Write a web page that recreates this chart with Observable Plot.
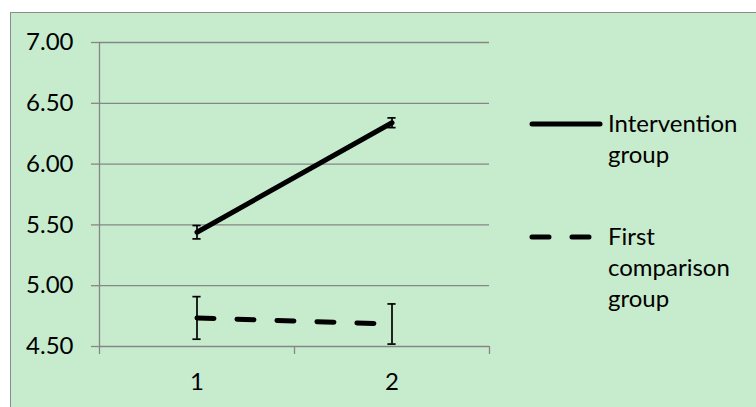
<!DOCTYPE html>
<html>
<head>
<meta charset="utf-8">
<script src="https://cdn.jsdelivr.net/npm/d3@7"></script>
<script src="https://cdn.jsdelivr.net/npm/@observablehq/plot@0.6"></script>
<style>
  html, body { margin: 0; padding: 0; background: #ffffff; }
  #wrap { position: relative; width: 756px; height: 407px; overflow: hidden; }
  #frame { position: absolute; left: 10px; top: 12px; width: 760px; height: 410px;
           background: #C7EBCD; border-left: 1.5px solid #8C8C8C; border-top: 1.5px solid #8C8C8C; }
  #chart { position: absolute; left: 0; top: 0; }
</style>
</head>
<body>
<div id="wrap"><div id="frame"></div><div id="chart"></div></div>
<script>
// ---- data ----
const categories = [1, 2];
const seriesNames = ["Intervention group", "First comparison group"];
const interventionMeans = [5.44, 6.34];
const interventionErrors = [0.055, 0.04];
const comparisonMeans = [4.735, 4.685];
const comparisonErrors = [0.175, 0.165];
const yTicks = [4.5, 5.0, 5.5, 6.0, 6.5, 7.0];
const xBoundaries = [0.5, 1.5, 2.5];

const rows = [];
categories.forEach((c, i) => {
  rows.push({series: seriesNames[0], x: c, y: interventionMeans[i], err: interventionErrors[i]});
});
categories.forEach((c, i) => {
  rows.push({series: seriesNames[1], x: c, y: comparisonMeans[i], err: comparisonErrors[i]});
});
const inter = rows.filter(d => d.series === seriesNames[0]);
const comp = rows.filter(d => d.series === seriesNames[1]);

const FONT = "Lato, 'Open Sans', sans-serif";
const FS = 24;
const GRID = "#868686";
const CAP = 0.021;

const plot = Plot.plot({
  width: 756,
  height: 407,
  marginLeft: 99,
  marginRight: 267,
  marginTop: 42,
  marginBottom: 61,
  style: {background: "transparent", fontFamily: FONT, fontSize: FS + "px", color: "#000"},
  x: {type: "linear", domain: [0.5, 2.5]},
  y: {domain: [4.5, 7]},
  marks: [
    Plot.ruleY(yTicks, {stroke: GRID, strokeWidth: 1.3}),
    Plot.ruleX([0.5], {y1: 4.5, y2: 7, stroke: GRID, strokeWidth: 1.3}),
    Plot.axisY({ticks: yTicks, tickFormat: d => d.toFixed(2), tickSize: 8, tickPadding: 18,
                stroke: GRID, strokeWidth: 1.3, fill: "#000", fontSize: FS, label: null}),
    Plot.axisX({ticks: xBoundaries, tickSize: 8, tickFormat: () => "", stroke: GRID, strokeWidth: 1.3, label: null}),
    Plot.axisX({ticks: categories, tickSize: 0, tickPadding: 26, tickFormat: d => String(d),
                fill: "#000", fontSize: FS, label: null}),
    // error bars
    Plot.ruleX(rows, {x: "x", y1: d => d.y - d.err, y2: d => d.y + d.err, stroke: "#000", strokeWidth: 1.7}),
    Plot.ruleY(rows, {y: d => d.y + d.err, x1: d => d.x - CAP, x2: d => d.x + CAP, stroke: "#000", strokeWidth: 1.7}),
    Plot.ruleY(rows, {y: d => d.y - d.err, x1: d => d.x - CAP, x2: d => d.x + CAP, stroke: "#000", strokeWidth: 1.7}),
    // lines
    Plot.line(inter, {x: "x", y: "y", stroke: "#000", strokeWidth: 5, strokeLinecap: "round"}),
    Plot.line(comp, {x: "x", y: "y", stroke: "#000", strokeWidth: 5, strokeLinecap: "round", strokeDasharray: "17,23"})
  ]
});
document.getElementById("chart").appendChild(plot);

// legend (layout only)
const svg = d3.select(plot);
const leg = svg.append("g").attr("font-family", FONT).attr("font-size", FS)
  .attr("fill", "#000").attr("text-anchor", "start");
const legendItems = [
  {lines: ["Intervention", "group"], dash: null, ly: 124, ty: 132},
  {lines: ["First", "comparison", "group"], dash: "17,23", ly: 237, ty: 245}
];
legendItems.forEach(it => {
  leg.append("line").attr("x1", 532).attr("x2", it.dash ? 593 : 600)
    .attr("y1", it.ly).attr("y2", it.ly)
    .attr("stroke", "#000").attr("stroke-width", 5).attr("stroke-linecap", "round")
    .attr("stroke-dasharray", it.dash);
  const t = leg.append("text").attr("x", 608).attr("y", it.ty);
  it.lines.forEach((s, i) => t.append("tspan").attr("x", 608).attr("dy", i === 0 ? 0 : 31).text(s));
});
</script>
</body>
</html>
